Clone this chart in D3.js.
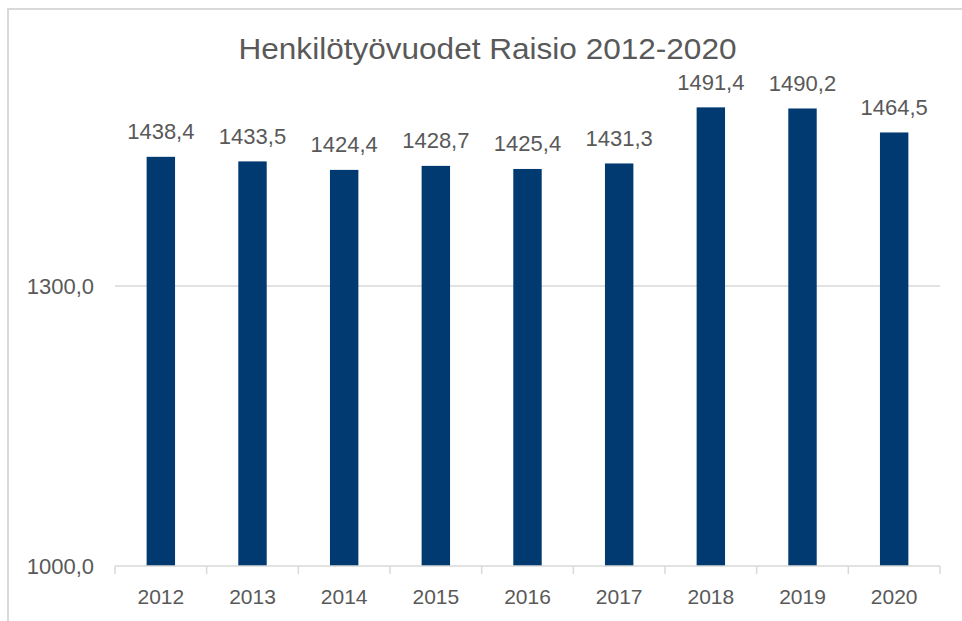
<!DOCTYPE html>
<html>
<head>
<meta charset="utf-8">
<script src="https://cdn.jsdelivr.net/npm/d3@7"></script>
<style>
  html, body { margin: 0; padding: 0; background: #fff; }
  svg { display: block; }
  text { font-family: "Liberation Sans", Arial, sans-serif; fill: #595959; }
</style>
</head>
<body>
<div id="chart"></div>
<script>
// values
const years = ["2012", "2013", "2014", "2015", "2016", "2017", "2018", "2019", "2020"];
const values = [1438.4, 1433.5, 1424.4, 1428.7, 1425.4, 1431.3, 1491.4, 1490.2, 1464.5];
const yTicks = [1000, 1300];
const title = "Henkilötyövuodet Raisio 2012-2020";

let width = 962,
    height = 621;

let svg = d3.select("#chart")
  .append("svg")
    .attr("width", width)
    .attr("height", height);

// light frame round the chart
svg.append("line")
  .attr("x1", 7).attr("x2", width).attr("y1", 9).attr("y2", 9)
  .attr("stroke", "#d9d9d9").attr("stroke-width", 2);
svg.append("line")
  .attr("x1", 8).attr("x2", 8).attr("y1", 8).attr("y2", height)
  .attr("stroke", "#d9d9d9").attr("stroke-width", 2);

let x = d3.scaleBand()
  .domain(years)
  .range([115, 940])
  .paddingInner(0.69)
  .paddingOuter(0.345);

let xEdge = d3.scaleBand()
  .domain(years)
  .range([115, 940])
  .padding(0);

let y = d3.scaleLinear()
  .domain([1000, 1600])
  .range([566, 6]);

let fmt = v => d3.format(".1f")(v).replace(".", ",");

// gridlines
svg.selectAll(".grid")
  .data(yTicks.filter(t => t > 1000))
  .enter()
  .append("line")
    .attr("x1", 115).attr("x2", 940)
    .attr("y1", d => y(d)).attr("y2", d => y(d))
    .attr("stroke", "#d9d9d9").attr("stroke-width", 1.5);

// y labels
svg.selectAll(".ylab")
  .data(yTicks)
  .enter()
  .append("text")
    .attr("x", 94)
    .attr("y", d => y(d) + 7.5)
    .attr("text-anchor", "end")
    .style("font-size", "22px")
    .text(d => fmt(d));

// bars
svg.selectAll(".bar")
  .data(values)
  .enter()
  .append("rect")
    .attr("x", (d, i) => x(years[i]))
    .attr("y", d => y(d))
    .attr("width", x.bandwidth())
    .attr("height", d => y(1000) - y(d))
    .attr("fill", "#003a70");

// data labels
svg.selectAll(".lab")
  .data(values)
  .enter()
  .append("text")
    .attr("x", (d, i) => x(years[i]) + x.bandwidth() / 2)
    .attr("y", d => y(d) - 17.5)
    .attr("text-anchor", "middle")
    .style("font-size", "22px")
    .text(d => fmt(d));

// x axis line and ticks
svg.append("line")
  .attr("x1", 115).attr("x2", 940)
  .attr("y1", y(1000)).attr("y2", y(1000))
  .attr("stroke", "#d9d9d9").attr("stroke-width", 1.5);

let edges = years.map(d => xEdge(d)).concat([940]);
svg.selectAll(".tick")
  .data(edges)
  .enter()
  .append("line")
    .attr("x1", d => d).attr("x2", d => d)
    .attr("y1", y(1000)).attr("y2", y(1000) + 8)
    .attr("stroke", "#d9d9d9").attr("stroke-width", 1.5);

svg.selectAll(".xlab")
  .data(years)
  .enter()
  .append("text")
    .attr("x", d => x(d) + x.bandwidth() / 2)
    .attr("y", 604)
    .attr("text-anchor", "middle")
    .style("font-size", "21px")
    .text(d => d);

// title
svg.append("text")
  .attr("x", 487.5)
  .attr("y", 58.5)
  .attr("text-anchor", "middle")
  .attr("textLength", 498)
  .attr("lengthAdjust", "spacingAndGlyphs")
  .style("font-size", "30px")
  .text(title);
</script>
</body>
</html>
